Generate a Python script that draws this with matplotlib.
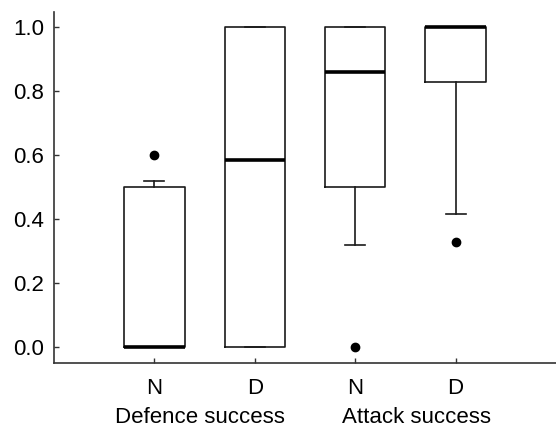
import matplotlib
matplotlib.use("Agg")
import matplotlib.pyplot as plt
import matplotlib.transforms as mtransforms

plt.rcParams['font.family'] = ['Liberation Sans', 'DejaVu Sans']

# data
tick_labels = ["N", "D", "N", "D"]
group_labels = ["Defence success", "Attack success"]
medians = [0.0, 0.585, 0.86, 1.0]
q1 = [0.0, 0.0, 0.50, 0.83]
q3 = [0.50, 1.0, 1.0, 1.0]
whislo = [0.0, 0.0, 0.32, 0.415]
whishi = [0.52, 1.0, 1.0, 1.0]
fliers = [[0.60], [], [0.0], [0.33]]
yticks = [0.0, 0.2, 0.4, 0.6, 0.8, 1.0]

stats = []
for i in range(len(tick_labels)):
    stats.append(dict(med=medians[i], q1=q1[i], q3=q3[i], whislo=whislo[i],
                      whishi=whishi[i], fliers=fliers[i], label=tick_labels[i]))

fig = plt.figure(figsize=(5.56, 4.36), dpi=100)
ax = fig.add_axes([0.0971, 0.1674, 0.9029, 0.8051])

positions = list(range(1, len(stats) + 1))
ax.bxp(stats, positions=positions, widths=0.6, capwidths=0.2,
       showfliers=True, patch_artist=False,
       boxprops=dict(color='#1a1a1a', linewidth=1.2),
       whiskerprops=dict(color='#1a1a1a', linewidth=1.2),
       capprops=dict(color='#1a1a1a', linewidth=1.2),
       medianprops=dict(color='black', linewidth=2.6, solid_capstyle='butt'),
       flierprops=dict(marker='o', markerfacecolor='black', markeredgecolor='black',
                       markersize=6, linestyle='none'))

ax.set_xlim(0, 5)
ax.set_ylim(-0.05, 1.048)
ax.set_yticks(yticks)
ax.set_yticklabels([f"{v:.1f}" for v in yticks])
ax.set_xticks(positions)
ax.set_xticklabels(tick_labels)

for s in ['top', 'right']:
    ax.spines[s].set_visible(False)
for s in ['left', 'bottom']:
    ax.spines[s].set_color('#333333')
    ax.spines[s].set_linewidth(1.2)

ax.tick_params(axis='y', direction='in', length=3.5, width=1, color='#333333',
               labelsize=16, pad=7)
ax.tick_params(axis='x', direction='in', length=3.5, width=1, color='#333333',
               labelsize=16, pad=11)

trans = mtransforms.blended_transform_factory(ax.transData, ax.transAxes)
group_x = [1.45, 3.61]
for gx, gl in zip(group_x, group_labels):
    ax.text(gx, -0.171, gl, transform=trans, ha='center', va='baseline', fontsize=16)

fig.savefig("out.png", dpi=100)
